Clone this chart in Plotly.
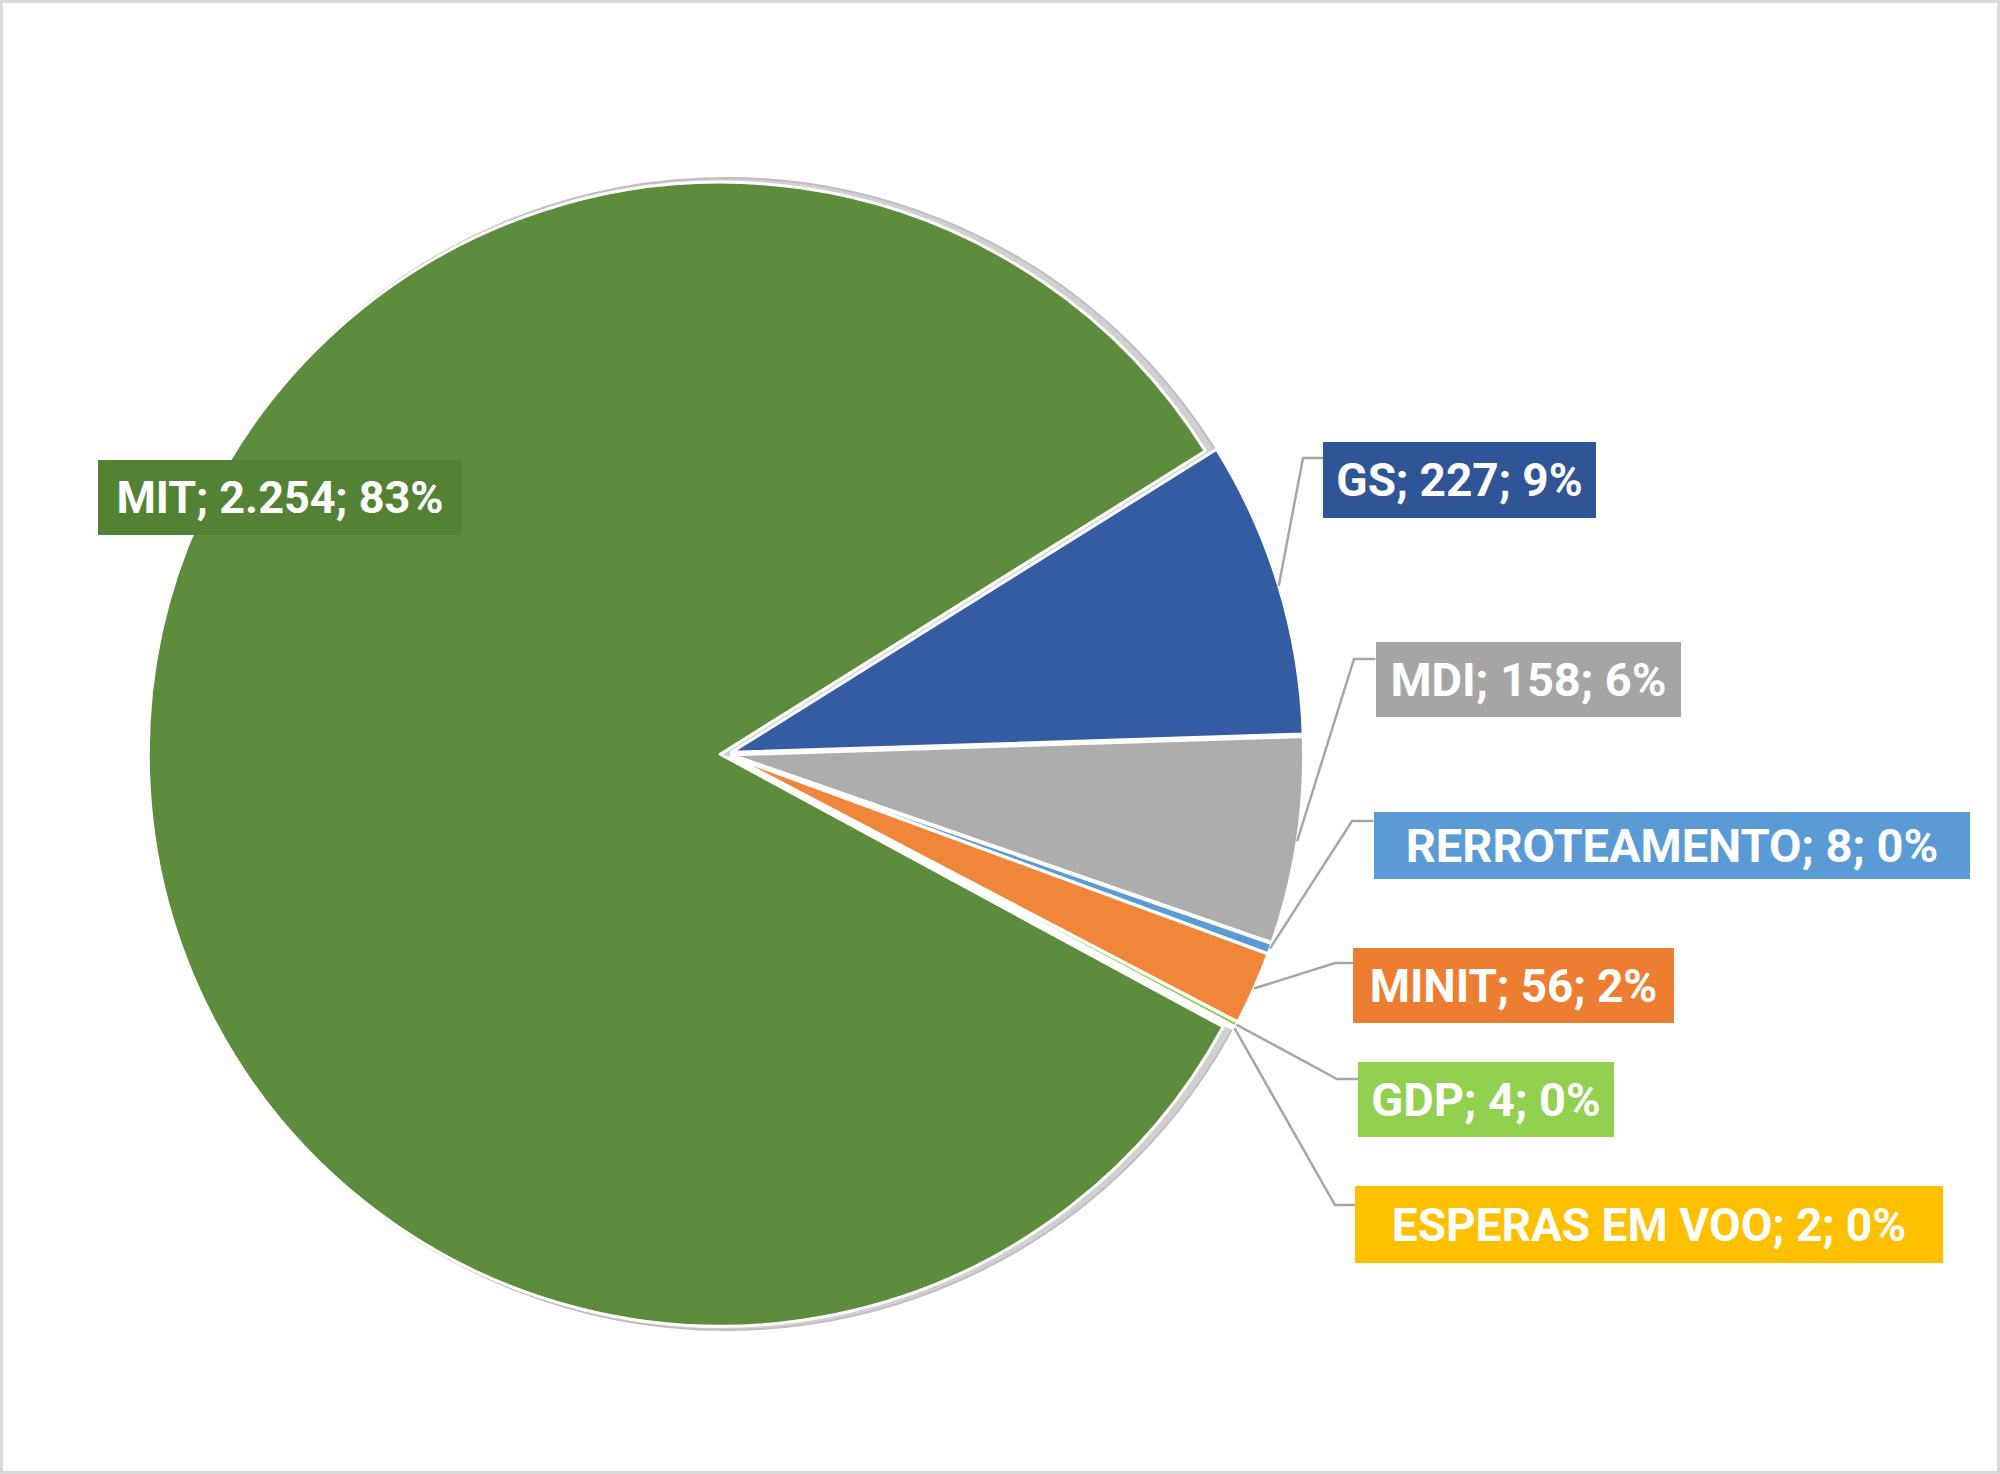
import math
import plotly.graph_objects as go

# ---- data ----
categories = ["GS", "MDI", "RERROTEAMENTO", "MINIT", "GDP", "ESPERAS EM VOO", "MIT"]
values = [227, 158, 8, 56, 4, 2, 2254]
value_text = ["227", "158", "8", "56", "4", "2", "2.254"]
pct_text = ["9%", "6%", "0%", "2%", "0%", "0%", "83%"]
slice_colors = ["#345CA3", "#ADADAD", "#5B9BD5", "#F0863A", "#92D050", "#FFC000", "#5D8C3D"]
label_colors = ["#2F5597", "#A5A5A5", "#5B9BD5", "#ED7D31", "#92D050", "#FFC000", "#548235"]

# ---- layout constants (pixels) ----
W, H = 2000, 1474
CX, CY = 726, 754          # pie centre
R = 572                    # pie radius
PULL = 0.01
ROTATION = 58              # start angle, clockwise from 12 o'clock
DR = R * (1 + PULL)        # domain half-size

# label boxes: centre x, centre y, width, height, font size
label_boxes = {
    "GS": (1459.5, 480, 273, 76, 46),
    "MDI": (1528, 679.5, 305, 75, 47),
    "RERROTEAMENTO": (1671.5, 845.5, 596, 67, 47),
    "MINIT": (1513.4, 985.5, 321, 75, 46),
    "GDP": (1486, 1099.5, 256, 75, 47),
    "ESPERAS EM VOO": (1649, 1224.5, 588, 77, 46),
    "MIT": (280, 497, 364, 75, 45),
}
# leader: (attach y, elbow x)
leaders = {
    "GS": (458, 1303),
    "MDI": (659, 1354),
    "RERROTEAMENTO": (821, 1352),
    "MINIT": (963, 1335),
    "GDP": (1079, 1337),
    "ESPERAS EM VOO": (1205, 1335),
}


def px(x):
    return x / W


def py(y):
    return 1 - y / H


fig = go.Figure()
fig.add_trace(go.Pie(
    labels=categories,
    values=values,
    sort=False,
    direction="clockwise",
    rotation=ROTATION,
    pull=[PULL] * len(values),
    marker=dict(colors=slice_colors, line=dict(color="white", width=3)),
    textinfo="none",
    hoverinfo="label+value+percent",
    showlegend=False,
    domain=dict(x=[px(CX - DR), px(CX + DR)], y=[py(CY + DR), py(CY - DR)]),
))

shapes = []
# chart border
shapes.append(dict(type="rect", xref="paper", yref="paper", x0=0, y0=0, x1=1, y1=1,
                   line=dict(color="#D9D9D9", width=6), layer="above"))
# subtle rim behind pie
shapes.append(dict(type="circle", xref="paper", yref="paper",
                   x0=px(CX - R - 4), x1=px(CX + R + 4), y0=py(CY + R + 4), y1=py(CY - R - 4),
                   line=dict(color="#BFBFBF", width=2), fillcolor="#D0D0D0", layer="below"))

total = sum(values)
cum = 0
annotations = []
for cat, v, vt, pt, lc in zip(categories, values, value_text, pct_text, label_colors):
    mid = math.radians(ROTATION + 360 * (cum + v / 2) / total)
    cum += v
    bx, by, bw, bh, fs = label_boxes[cat]
    annotations.append(dict(
        x=px(bx), y=py(by), xref="paper", yref="paper", xanchor="center", yanchor="middle",
        text=f"<b>{cat}; {vt}; {pt}</b>", showarrow=False,
        width=bw, height=bh, bgcolor=lc, borderpad=0, borderwidth=0,
        font=dict(family="Roboto", size=fs, color="white"),
        align="center", valign="middle",
    ))
    if cat in leaders:
        ay, ex = leaders[cat]
        sx = CX + R * (1 + PULL) * math.sin(mid)
        sy = CY - R * (1 + PULL) * math.cos(mid)
        box_left = bx - bw / 2
        path = (f"M {px(sx)},{py(sy)} L {px(ex)},{py(ay)} L {px(box_left)},{py(ay)}")
        shapes.append(dict(type="path", xref="paper", yref="paper", path=path,
                           line=dict(color="#A6A6A6", width=2.5), layer="above"))

fig.update_layout(
    width=W, height=H,
    margin=dict(l=0, r=0, t=0, b=0),
    paper_bgcolor="white",
    plot_bgcolor="white",
    shapes=shapes,
    annotations=annotations,
)

fig.write_html("out.html")
